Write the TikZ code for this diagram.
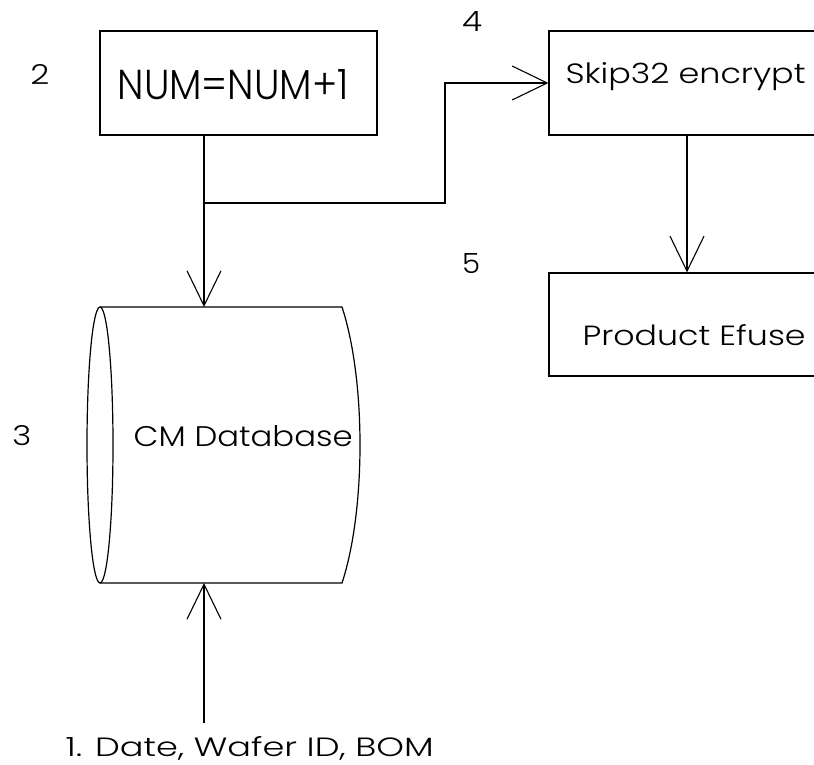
\documentclass[tikz,border=0pt]{standalone}
\usepackage{fontspec}
\setmainfont{Poppins}[UprightFont=* Light]
\usetikzlibrary{arrows.meta}
\begin{document}
\begin{tikzpicture}[x=1pt,y=-1pt,
  line width=1.2pt,
  boxstyle/.style={draw,rectangle,inner sep=0pt},
  lbl/.style={inner sep=0pt,anchor=base west},
  num/.style={inner sep=0pt},
  arr/.style={-{Straight Barb[length=35pt,width=34pt,line width=1.1pt]}}]
\useasboundingbox (0,0) rectangle (814,765);
\clip (0,0) rectangle (814,765);

% process boxes
\node[boxstyle,minimum width=277pt,minimum height=104pt] (inc) at (238.5,83) {};
\node[boxstyle,minimum width=300pt,minimum height=104pt] (enc) at (699,83) {};
\node[boxstyle,minimum width=300pt,minimum height=103pt] (fuse) at (699,324.5) {};

% database cylinder
\node[inner sep=0pt,minimum width=260pt,minimum height=276pt] (db) at (230,445) {};
\coordinate (dbtop) at (204,307);
\coordinate (dbbot) at (204,583);
\draw (100,445) ellipse [x radius=13, y radius=138];
\draw (100,307) -- (342,307) .. controls (366,380) and (366,510) .. (342,583) -- (100,583);

% texts
\node[lbl] at (117,100) {\resizebox{231pt}{30pt}{NUM=NUM+1}};
\node[lbl] at (565,84) {\resizebox{240pt}{21pt}{Skip32 encrypt}};
\node[lbl] at (582,345) {\resizebox{223pt}{21pt}{Product Efuse}};
\node[lbl] at (133,446) {\resizebox{219pt}{21pt}{CM Database}};
\node[lbl] (src) at (65,756) {\resizebox{368pt}{20pt}{1. Date, Wafer ID, BOM}};

% step numbers
\node[num] (n2) at (40,74) {\resizebox{19pt}{20pt}{2}};
\node[num] (n3) at (22,436) {\resizebox{19pt}{20pt}{3}};
\node[num] (n4) at (472,22) {\resizebox{20pt}{20pt}{4}};
\node[num] (n5) at (471,264) {\resizebox{18pt}{20pt}{5}};

% connectors
\coordinate (split) at (204,203);
\coordinate (bend) at (445,203);
\coordinate (srcpt) at (204,723);
\draw[arr] (inc.south -| dbtop) -- (dbtop);
\draw[arr] (split) -- (bend) |- (enc.west);
\draw[arr] (enc.south -| 687,0) -- (fuse.north -| 687,0);
\draw[arr] (srcpt) -- (dbbot);
\end{tikzpicture}
\end{document}
